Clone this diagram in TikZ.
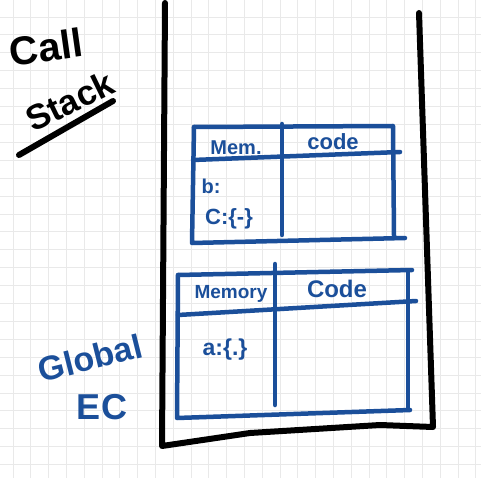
\documentclass[tikz,border=0pt]{standalone}
\usepackage{fontspec}
\setmainfont{Liberation Sans}
\definecolor{inkblue}{HTML}{1B4F9A}
\definecolor{gridgray}{HTML}{E9E9E9}
\tikzset{
  stackwall/.style={line width=6pt, line cap=round, line join=round},
  tabline/.style={draw=inkblue, line width=4.5pt, line cap=round, line join=round},
  blueink/.style={text=inkblue, inner sep=0pt},
  blackink/.style={text=black, inner sep=0pt}
}
\begin{document}
\begin{tikzpicture}[x=1pt,y=-1pt]

% Page and background grid
\fill[white] (0,0) rectangle (481,478);
\useasboundingbox (0,0) rectangle (481,478);
\foreach \i in {0,...,26} {
  \draw[gridgray, line width=0.8pt] (13+17.8*\i,0) -- (13+17.8*\i,478);
}
\foreach \j in {0,...,26} {
  \draw[gridgray, line width=0.8pt] (0,17+17.9*\j) -- (481,17+17.9*\j);
}

% Corners of the stack
\coordinate (TL) at (165,3);
\coordinate (BL) at (162,446);
\coordinate (BR) at (433,427);
\coordinate (TR) at (419,13);

% Draw the stack walls
\draw[stackwall] (TL) -- (BL) -- (250,433) -- (380,425) -- (BR) -- (TR);

% Upper execution context
\coordinate (P1) at (194,127);
\coordinate (P2) at (393,126);
\coordinate (P3) at (192,243);
\draw[tabline] (P1) -- (P3) -- (405,238);
\draw[tabline] (P1) -- (P2) -- (394,236);
\draw[tabline] (193,160) -- (400,152);
\draw[tabline] (282,124) -- (282,235);

% Lower execution context (global)
\coordinate (Q1) at (178,275);
\coordinate (Q2) at (412,270);
\coordinate (Q3) at (177,418);
\draw[tabline] (Q1) -- (Q3) -- (410,410);
\draw[tabline] (Q1) -- (Q2);
\draw[tabline] (408,271) -- (408,408);
\draw[tabline] (178,315) -- (416,301);
\draw[tabline] (275,264) -- (275,405);

% Labels of the upper context
\node[blueink, font=\bfseries\fontsize{20}{20}\selectfont] (mem) at (236,148) {Mem.};
\node[blueink, font=\bfseries\fontsize{22}{22}\selectfont] (code) at (333,142) {code};
\node[blueink, font=\bfseries\fontsize{20}{20}\selectfont] (b) at (211,186) {b:};
\node[blueink, font=\bfseries\fontsize{22}{22}\selectfont] (c) at (229,219) {C:\{-\}};

% Labels of the lower context
\node[blueink, font=\bfseries\fontsize{19}{19}\selectfont] (memory) at (231,294) {Memory};
\node[blueink, font=\bfseries\fontsize{24}{24}\selectfont] (Code) at (337,289) {Code};
\node[blueink, font=\bfseries\fontsize{23}{23}\selectfont] (a) at (225,350) {a:\{.\}};

% Title
\node[blackink, rotate=8, font=\bfseries\fontsize{40}{40}\selectfont] (call) at (46,47) {Call};
\node[blackink, rotate=26, font=\bfseries\fontsize{35}{35}\selectfont] (stack) at (70,101) {Stack};
\draw[stackwall] (19,155) -- (113,101);

% Global EC label
\node[blueink, rotate=14, font=\bfseries\fontsize{34}{34}\selectfont] (global) at (90,358) {Global};
\node[blueink, font=\bfseries\fontsize{36}{36}\selectfont] (ec) at (102,407) {EC};

\end{tikzpicture}
\end{document}
